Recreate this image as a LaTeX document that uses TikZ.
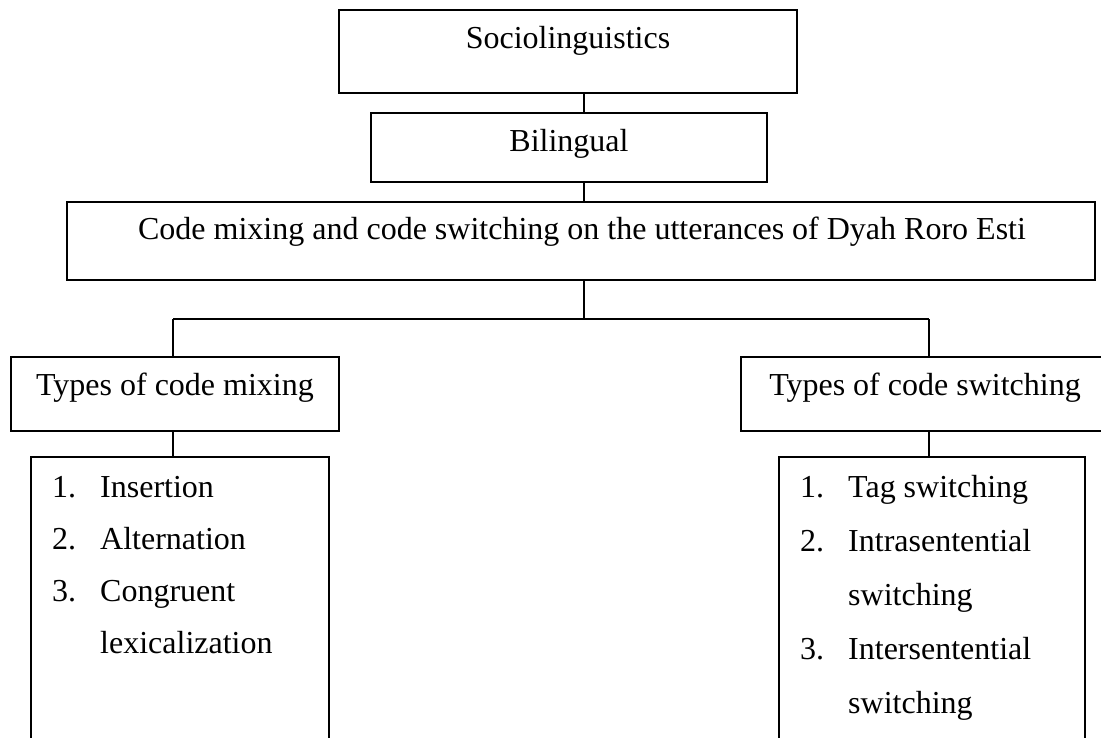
\documentclass[tikz,border=0pt]{standalone}
\usepackage{fontspec}
\setmainfont{Liberation Serif}
\begin{document}
\begin{tikzpicture}[x=1pt,y=-1pt,
  box/.style={draw, line width=1.6pt, inner sep=0pt, rectangle},
  lbl/.style={font=\fontsize{32}{38}\selectfont, inner sep=0pt, anchor=base},
  item/.style={font=\fontsize{32}{38}\selectfont, inner sep=0pt, anchor=base west},
  conn/.style={line width=1.4pt}]
\useasboundingbox (0,0) rectangle (1101,738);
\clip (0,0) rectangle (1101,738);
% boxes
\node[box, minimum width=458pt, minimum height=83pt] (socio) at (568,51.5) {};
\node[box, minimum width=396pt, minimum height=69pt] (bil) at (569,147.5) {};
\node[box, minimum width=1028pt, minimum height=78pt] (main) at (581,241) {};
\node[box, minimum width=328pt, minimum height=74pt] (ltype) at (175,394) {};
\node[box, minimum width=368pt, minimum height=74pt] (rtype) at (925,394) {};
\node[box, minimum width=298pt, minimum height=323pt] (llist) at (180,618.5) {};
\node[box, minimum width=306pt, minimum height=323pt] (rlist) at (932,618.5) {};
% texts
\node[lbl] (sociot) at (568,49) {Sociolinguistics};
\node[lbl] (bilt) at (569,152) {Bilingual};
\node[lbl] (maint) at (582,240) {Code mixing and code switching on the utterances of Dyah Roro Esti};
\node[lbl] (ltypet) at (175,395) {Types of code mixing};
\node[lbl] (rtypet) at (925,395) {Types of code switching};
% left list
\node[item] (l1n) at (52,497) {1.};
\node[item] (l1) at (100,497) {Insertion};
\node[item] (l2n) at (52,549) {2.};
\node[item] (l2) at (100,549) {Alternation};
\node[item] (l3n) at (52,601) {3.};
\node[item] (l3) at (100,601) {Congruent};
\node[item] (l3b) at (100,653) {lexicalization};
% right list
\node[item] (r1n) at (800,497) {1.};
\node[item] (r1) at (848,497) {Tag switching};
\node[item] (r2n) at (800,551) {2.};
\node[item] (r2) at (848,551) {Intrasentential};
\node[item] (r2b) at (848,605) {switching};
\node[item] (r3n) at (800,659) {3.};
\node[item] (r3) at (848,659) {Intersentential};
\node[item] (r3b) at (848,713) {switching};
% connectors
\coordinate (spine) at (584,0);
\coordinate (junc) at (584,319);
\coordinate (lj) at (173,319);
\coordinate (rj) at (929,319);
\draw[conn] (socio.south -| spine) -- (bil.north -| spine);
\draw[conn] (bil.south -| spine) -- (main.north -| spine);
\draw[conn] (main.south -| spine) -- (junc);
\draw[conn] (lj) -- (rj);
\draw[conn] (lj) -- (ltype.north -| lj);
\draw[conn] (rj) -- (rtype.north -| rj);
\draw[conn] (ltype.south -| lj) -- (llist.north -| lj);
\draw[conn] (rtype.south -| rj) -- (rlist.north -| rj);
\end{tikzpicture}
\end{document}
